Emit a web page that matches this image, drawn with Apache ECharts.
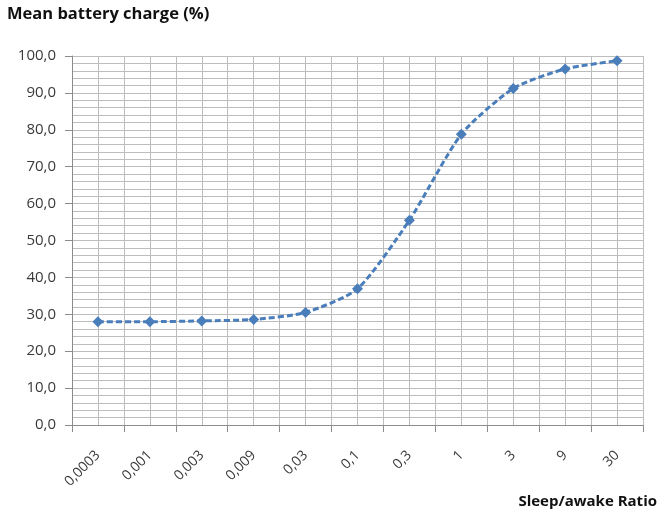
<!DOCTYPE html>
<html><head><meta charset="utf-8">
<script src="https://cdn.jsdelivr.net/npm/echarts@6/dist/echarts.min.js"></script>
<style>html,body{margin:0;padding:0;background:#fff}#c{width:660px;height:519px}</style>
</head><body><div id="c"></div>
<script>
const categories = ['0,0003','0,001','0,003','0,009','0,03','0,1','0,3','1','3','9','30'];
const charge = [28.0, 28.0, 28.2, 28.6, 30.5, 36.9, 55.5, 78.8, 91.2, 96.5, 98.7];
const titleText = 'Mean battery charge (%)';
const xName = 'Sleep/awake Ratio';

const FONT = '"Open Sans", "Liberation Sans", sans-serif';
const chart = echarts.init(document.getElementById('c'), null, {renderer:'canvas'});
chart.setOption({
  animation:false,
  backgroundColor:'#fff',
  grid:{left:72, right:17, top:56, bottom:94, containLabel:false},
  graphic:[
    {type:'text', left:7, top:6, style:{text:titleText, font:'bold 16.5px '+FONT, fill:'#111'}},
    {type:'text', right:3, top:494, style:{text:xName, font:'bold 15px '+FONT, fill:'#111'}}
  ],
  xAxis:[
    {type:'category', data:categories, boundaryGap:true,
     axisLine:{lineStyle:{color:'#8c8c8c', width:1}},
     axisTick:{show:true, length:7, alignWithLabel:false, lineStyle:{color:'#8c8c8c'}},
     axisLabel:{rotate:45, color:'#3a3a3a', fontFamily:FONT, fontSize:14, margin:28, interval:0},
     splitLine:{show:true, lineStyle:{color:'#bdbdbd', width:1}}},
    {type:'value', min:0, max:22, interval:1, show:true, position:'bottom',
     axisLine:{show:false}, axisTick:{show:false}, axisLabel:{show:false},
     splitLine:{show:true, lineStyle:{color:'#bdbdbd', width:1}}}
  ],
  yAxis:{type:'value', min:0, max:100, interval:10,
     axisLine:{show:true, lineStyle:{color:'#8c8c8c'}},
     axisTick:{show:true, length:7, lineStyle:{color:'#8c8c8c'}},
     axisLabel:{color:'#3a3a3a', fontFamily:FONT, fontSize:15, margin:16,
       formatter:v=>v.toFixed(1).replace('.',',')},
     splitLine:{show:true, lineStyle:{color:'#bdbdbd', width:1}},
     minorTick:{show:false, splitNumber:5},
     minorSplitLine:{show:true, lineStyle:{color:'#bdbdbd', width:1}}},
  series:[{type:'line', xAxisIndex:0, data:charge, smooth:0.22,
     symbol:'diamond', symbolSize:11,
     itemStyle:{color:'#4a7ebb'},
     lineStyle:{color:'#4a7ebb', width:3, type:[6,3]}}]
});
</script></body></html>
